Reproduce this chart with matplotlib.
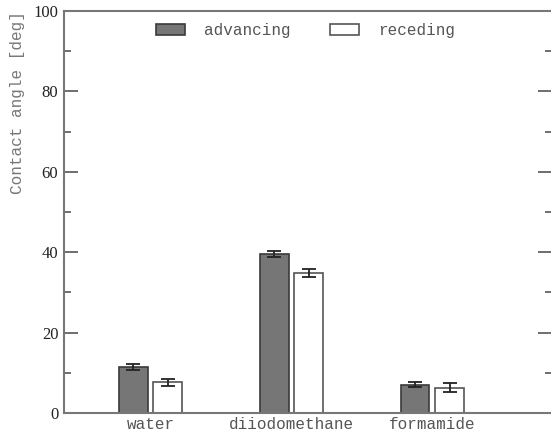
import numpy as np
import matplotlib.pyplot as plt
from matplotlib.ticker import MultipleLocator

liquids = ['water', 'diiodomethane', 'formamide']
advancing = [11.4, 39.6, 7.0]
advancing_err = [0.7, 0.7, 0.6]
receding = [7.6, 34.8, 6.3]
receding_err = [0.8, 0.9, 1.1]

mono = 'Liberation Mono'
serif = 'Liberation Serif'

fig = plt.figure(figsize=(5.51, 4.37), dpi=100)
ax = fig.add_axes([0.116, 0.055, 0.886, 0.92])

x = np.arange(1, len(liquids) + 1)
width = 0.205
offset = 0.123

ax.bar(x - offset, advancing, width, yerr=advancing_err, color='#767676',
       edgecolor='#3a3a3a', linewidth=1.2, label='advancing',
       error_kw=dict(ecolor='#222222', elinewidth=1.3, capsize=5, capthick=1.3))
ax.bar(x + offset, receding, width, yerr=receding_err, color='white',
       edgecolor='#555555', linewidth=1.2, label='receding',
       error_kw=dict(ecolor='#222222', elinewidth=1.3, capsize=5, capthick=1.3))

ax.set_xlim(0.385, 3.85)
ax.set_ylim(0, 100)
ax.set_xticks(x)
ax.set_xticklabels(liquids, family=mono, fontsize=11.5, color='#555555')
ax.tick_params(axis='x', length=0, pad=3)

ax.yaxis.set_major_locator(MultipleLocator(20))
ax.yaxis.set_minor_locator(MultipleLocator(10))
ax.tick_params(axis='y', which='both', direction='in', right=True,
               color='#555555', width=1.2)
ax.tick_params(axis='y', which='major', length=10, pad=4)
ax.tick_params(axis='y', which='minor', length=5)
for lab in ax.get_yticklabels():
    lab.set_family(serif)
    lab.set_fontsize(12)
    lab.set_color('#222222')

for s in ax.spines.values():
    s.set_color('#777777')
    s.set_linewidth(1.5)

ax.set_ylabel('Contact angle [deg]', family=mono, fontsize=11.5,
              color='#777777', loc='top')
ax.yaxis.set_label_coords(-0.08, 1.0)

ax.legend(loc='upper center', ncol=2, frameon=False, handlelength=1.8,
          handleheight=0.7, columnspacing=2.5, handletextpad=1.2,
          bbox_to_anchor=(0.495, 1.005),
          prop=dict(family=mono, size=11.5), labelcolor='#555555')

fig.savefig('out.png', dpi=100)
